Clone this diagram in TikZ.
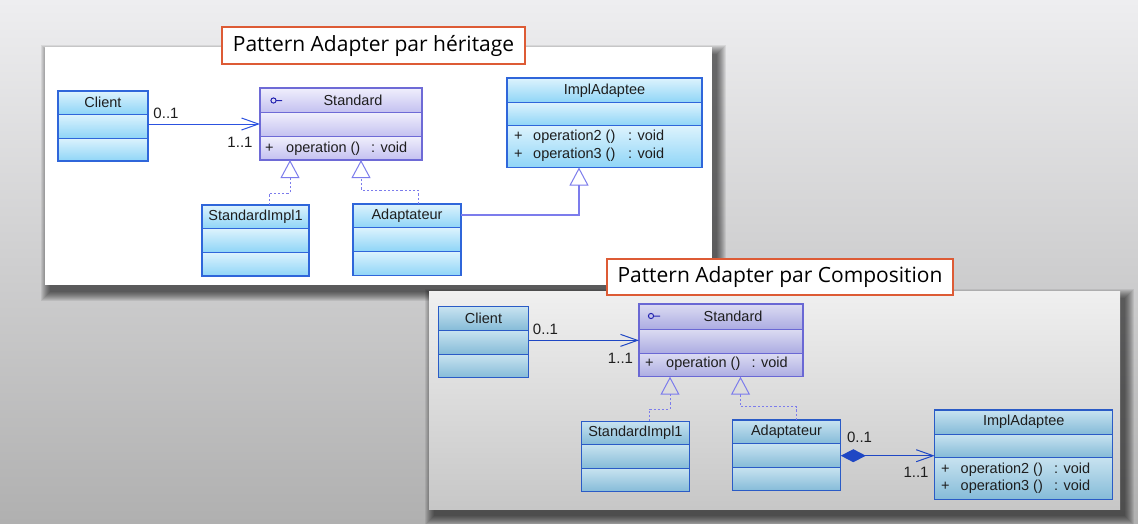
\documentclass[tikz,border=0pt]{standalone}
\usepackage{fontspec}
\setmainfont{Liberation Sans}
\newfontfamily\titlefont{Open Sans}
\usetikzlibrary{arrows.meta,calc}
\definecolor{Atop}{HTML}{DDF3FD}
\definecolor{Abot}{HTML}{8FD5F7}
\definecolor{Aline}{HTML}{2F66DA}
\definecolor{Btop}{HTML}{F0EFFC}
\definecolor{Bbot}{HTML}{C3C0F0}
\definecolor{Bline}{HTML}{6E6AD6}
\definecolor{Ctop}{HTML}{C8E3F0}
\definecolor{Cbot}{HTML}{85BBD8}
\definecolor{Cline}{HTML}{2A5BC6}
\definecolor{Dtop}{HTML}{DCDCF2}
\definecolor{Dbot}{HTML}{ACACE2}
\definecolor{Dline}{HTML}{6A68D4}
\definecolor{assoc}{HTML}{2C52E0}
\definecolor{assocB}{HTML}{1F47C4}
\definecolor{genc}{HTML}{7C7CEC}
\definecolor{titlered}{HTML}{DD5B35}
\definecolor{txt}{HTML}{1E1E1E}
\definecolor{bgtop}{HTML}{EEEEF0}
\definecolor{bgmid}{HTML}{E0E0E2}
\definecolor{bgbot}{HTML}{B0B0B0}
\definecolor{icon}{HTML}{2424B0}
\tikzset{
  clsframe/.style={draw=#1, line width=1.3pt, inner sep=0pt, outer sep=0pt},
  clsname/.style={font=\fontsize{14.5}{16}\selectfont, text=txt, inner sep=0pt},
  op/.style={font=\fontsize{14.5}{16}\selectfont, text=txt, inner sep=0pt, anchor=west, text height=10.5pt, text depth=3pt},
  lab/.style={font=\fontsize{15}{16}\selectfont, text=txt, inner sep=0pt},
  assocline/.style={draw=#1, line width=1pt, -{Straight Barb[length=17pt, width=12pt, line width=1pt]}},
  realize/.style={draw=genc, line width=1pt, dash pattern=on 2.2pt off 2pt, -{Triangle[open, length=18pt, width=19pt, line width=1pt]}},
  genline/.style={draw=genc, line width=1.2pt, -{Triangle[open, length=18pt, width=19pt, line width=1pt]}},
  compline/.style={draw=assocB, line width=1.2pt, {Diamond[length=25pt, width=13pt]}-{Straight Barb[length=17pt, width=12pt, line width=1pt]}},
  titlebox/.style={draw=titlered, line width=1.5pt, fill=white, inner sep=0pt, font=\titlefont\fontsize{21}{24}\selectfont, text=black},
  iconline/.style={draw=icon, line width=1pt},
}
\newcommand\classbox[8]{%
  \shade[top color=#8top, bottom color=#8bot] (#2,#3) rectangle (#4,#5);
  \shade[top color=#8top, bottom color=#8bot] (#2,#5) rectangle (#4,#6);
  \shade[top color=#8top, bottom color=#8bot] (#2,#6) rectangle (#4,#7);
  \draw[#8line, line width=1pt] (#2,#5) -- (#4,#5) (#2,#6) -- (#4,#6);
  \pgfmathsetmacro\clw{#4-#2}%
  \pgfmathsetmacro\clh{#7-#3}%
  \node[clsframe=#8line, minimum width=\clw pt, minimum height=\clh pt, anchor=north west] (#1) at (#2,#3) {};
}
\newcommand\softshadow[4]{%
  \foreach \e in {0,...,9}{%
    \fill[black, opacity=0.075] (#1+5-\e, #2+7-\e) rectangle (#3+5+\e, #4+7+\e);
  }%
}
\begin{document}
\begin{tikzpicture}[x=1pt, y=-1pt]
\useasboundingbox (0,0) rectangle (1138,523);
% background
\shade[top color=bgtop, middle color=bgmid, bottom color=bgbot] (0,0) rectangle (1138,523);

% ---------- top panel ----------
\softshadow{45}{47}{712}{285}
\fill[white] (45,47) rectangle (712,285);
\node[titlebox, minimum width=303pt, minimum height=37pt] (titleT) at (373.5,45.5) {Pattern Adapter par héritage};

\classbox{clientT}{58}{91}{148}{114}{138}{161}{A}
\classbox{standardT}{260}{88}{422}{112.5}{136.5}{160}{B}
\classbox{implaT}{507}{78}{702}{102.5}{125.5}{167.5}{A}
\classbox{simplT}{202}{205}{309}{228.5}{252}{276}{A}
\classbox{adaptT}{353}{204}{461}{227.5}{251}{275.5}{A}

\node[clsname] (clientT-n) at (103,102.5) {Client};
\node[clsname] (standardT-n) at (353,100.5) {Standard};
\node[clsname] (implaT-n) at (604.5,90.5) {ImplAdaptee};
\node[clsname] (simplT-n) at (255.5,216.8) {StandardImpl1};
\node[clsname] (adaptT-n) at (407,216) {Adaptateur};
\draw[iconline] (273.5,100.5) circle[radius=2.6pt] (276.1,100.5) -- (282,100.5);

\node[op] (standardT-p) at (265,148.3) {+};
\node[op] (standardT-o) at (286,148.3) {operation ()};
\node[op] (standardT-v) at (371,148.3) {: void};
\node[op] (implaT-p1) at (514,136.7) {+};
\node[op] (implaT-o1) at (533,136.7) {operation2 ()};
\node[op] (implaT-v1) at (628,136.7) {: void};
\node[op] (implaT-p2) at (514,154.3) {+};
\node[op] (implaT-o2) at (533,154.3) {operation3 ()};
\node[op] (implaT-v2) at (628,154.3) {: void};

\draw[assocline=assoc] (clientT.east |- standardT.west) -- (standardT.west);
\node[lab] (lt1) at (166,113) {0..1};
\node[lab] (lt2) at (240,142) {1..1};
\draw[realize] ([xshift=13.5pt]simplT.north) -- ++(0,-12) -| ([xshift=-51pt]standardT.south);
\draw[realize] ([xshift=11pt]adaptT.north) -- ++(0,-14) -| ([xshift=20pt]standardT.south);
\draw[genline] ([yshift=-11pt]adaptT.north east) -| ([xshift=-25.5pt]implaT.south);

% ---------- bottom panel ----------
\softshadow{429}{291}{1120}{509}
\shade[top color=white!94!black, bottom color=white!78!black] (429,291) rectangle (1120,509);
\node[titlebox, minimum width=346pt, minimum height=36pt] (titleB) at (780,277) {Pattern Adapter par Composition};

\classbox{clientB}{438.5}{306.7}{528.5}{330.3}{354.3}{377.7}{C}
\classbox{standardB}{639}{304}{803}{329}{353}{376.7}{D}
\classbox{simplB}{581.6}{421.3}{689.2}{444.3}{468.3}{491.7}{C}
\classbox{adaptB}{732.3}{420}{840.8}{443.7}{467.3}{490.7}{C}
\classbox{implaB}{934.7}{410}{1112.8}{434}{457}{499.3}{C}

\node[clsname] (clientB-n) at (483.5,318) {Client};
\node[clsname] (standardB-n) at (733,316) {Standard};
\node[clsname] (implaB-n) at (1023.7,422) {ImplAdaptee};
\node[clsname] (simplB-n) at (635.4,432.8) {StandardImpl1};
\node[clsname] (adaptB-n) at (786.5,431.8) {Adaptateur};
\draw[iconline] (651,316) circle[radius=2.6pt] (653.6,316) -- (660,316);

\node[op] (standardB-p) at (645,364) {+};
\node[op] (standardB-o) at (666,364) {operation ()};
\node[op] (standardB-v) at (751.5,364) {: void};
\node[op] (implaB-p1) at (941,469.3) {+};
\node[op] (implaB-o1) at (960.5,469.3) {operation2 ()};
\node[op] (implaB-v1) at (1054,469.3) {: void};
\node[op] (implaB-p2) at (941,486.7) {+};
\node[op] (implaB-o2) at (960.5,486.7) {operation3 ()};
\node[op] (implaB-v2) at (1054,486.7) {: void};

\draw[assocline=assocB] (clientB.east |- standardB.west) -- (standardB.west);
\node[lab] (lb1) at (545.5,329) {0..1};
\node[lab] (lb2) at (620.5,358) {1..1};
\draw[realize] ([xshift=13.6pt]simplB.north) -- ++(0,-12.3) -| ([xshift=-51pt]standardB.south);
\draw[realize] ([xshift=10.3pt]adaptB.north) -- ++(0,-13.3) -| ([xshift=19.5pt]standardB.south);
\path ([yshift=-35.7pt]adaptB.north east) coordinate (cmpS);
\draw[compline] (cmpS) -- (cmpS -| implaB.west);
\node[lab] (lb3) at (859.5,437) {0..1};
\node[lab] (lb4) at (916,472) {1..1};
\end{tikzpicture}
\end{document}
